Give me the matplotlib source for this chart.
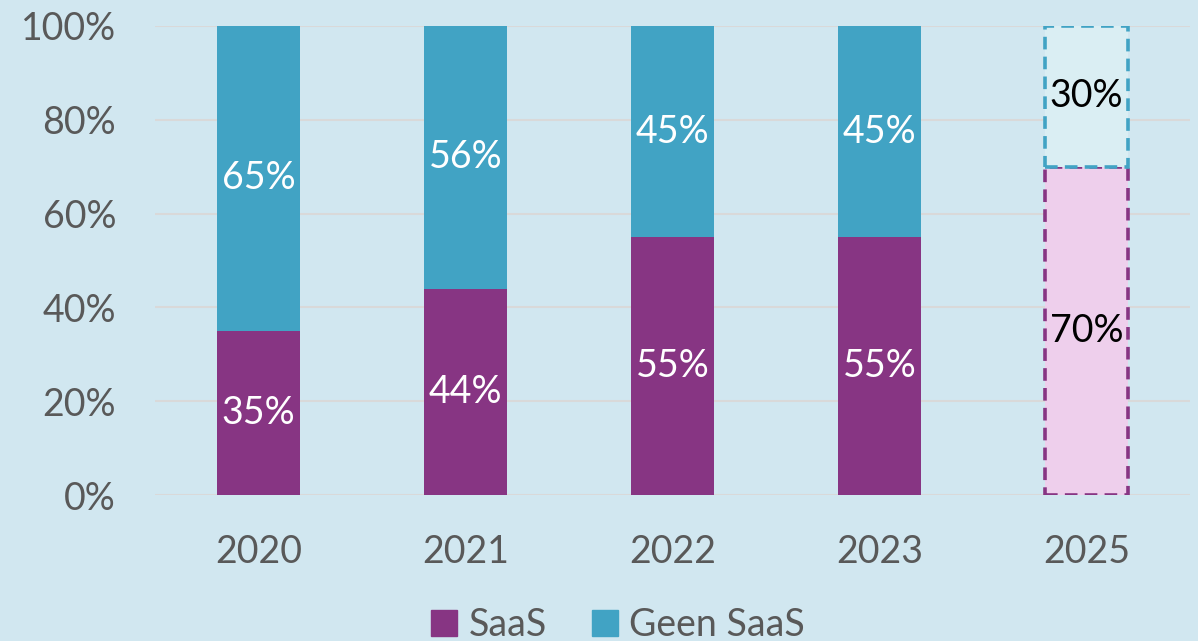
import matplotlib
matplotlib.use("Agg")
import matplotlib.pyplot as plt
import numpy as np
from matplotlib.patches import Patch

years = ["2020", "2021", "2022", "2023", "2025"]
saas = [35, 44, 55, 55, 70]
geen_saas = [65, 56, 45, 45, 30]
forecast = [False, False, False, False, True]
yticks = [0, 20, 40, 60, 80, 100]

bg = "#D1E7F0"
purple = "#873583"
teal = "#41A3C4"
light_purple = "#EECFEC"
light_teal = "#DAEEF3"
grey = "#595959"

plt.rcParams['font.family'] = ['Lato', 'DejaVu Sans']
FS = 27

fig = plt.figure(figsize=(11.98, 6.41), dpi=100, facecolor=bg)
ax = fig.add_axes([155/1198, 1-495/641, (1190-155)/1198, (495-26)/641], facecolor=bg)

x = np.arange(len(years))
w = 0.4
for i in range(len(years)):
    if forecast[i]:
        ax.bar(x[i], saas[i], w, color=light_purple, edgecolor=purple, linewidth=2.6,
               linestyle=(0, (3.5, 2)), zorder=3)
        ax.bar(x[i], geen_saas[i], w, bottom=saas[i], color=light_teal, edgecolor=teal,
               linewidth=2.6, linestyle=(0, (3.5, 2)), zorder=3)
        tc = "black"
    else:
        ax.bar(x[i], saas[i], w, color=purple, zorder=3)
        ax.bar(x[i], geen_saas[i], w, bottom=saas[i], color=teal, zorder=3)
        tc = "white"
    ax.text(x[i], saas[i]/2, f"{saas[i]}%", ha="center", va="center", color=tc, fontsize=FS, zorder=4)
    ax.text(x[i], saas[i] + geen_saas[i]/2, f"{geen_saas[i]}%", ha="center", va="center", color=tc, fontsize=FS, zorder=4)

ax.set_xlim(-0.5, len(years)-0.5)
ax.set_ylim(0, 100)
ax.set_yticks(yticks)
ax.set_yticklabels([f"{t}%" for t in yticks])
ax.set_xticks(x)
ax.set_xticklabels(years)
ax.tick_params(axis='both', length=0, labelsize=FS, labelcolor=grey)
ax.tick_params(axis='y', pad=28)
ax.tick_params(axis='x', pad=28)
ax.grid(axis='y', color="#D9D9D9", linewidth=1.5, zorder=0)
for s in ax.spines.values():
    s.set_visible(False)

handles = [Patch(color=purple, label="SaaS"), Patch(color=teal, label="Geen SaaS")]
fig.legend(handles=handles, loc="center", bbox_to_anchor=(618/1198, 1-625/641), ncol=2,
           frameon=False, fontsize=FS, handlelength=0.7, handleheight=0.7,
           handletextpad=0.3, columnspacing=1.2, labelcolor=grey)

fig.savefig("out.png", dpi=100, facecolor=bg)
